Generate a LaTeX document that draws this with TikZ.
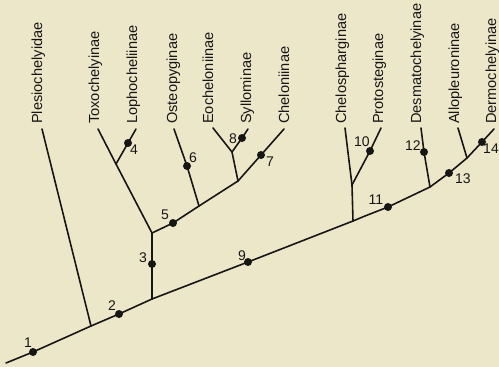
\documentclass[tikz,border=0pt]{standalone}
\usepackage{fontspec}
\setmainfont{Liberation Sans}
\definecolor{bg}{RGB}{237,231,201}
\definecolor{ink}{RGB}{22,22,22}
\begin{document}
\begin{tikzpicture}[x=1pt,y=-1pt,
  branch/.style={line width=1.6pt, draw=ink, line join=round, line cap=round},
  dotnode/.style={circle, fill=ink, inner sep=0pt, minimum size=8pt},
  taxon/.style={rotate=90, anchor=base west, inner sep=0pt, text=ink, font=\fontsize{14.6}{16}\selectfont},
  num/.style={inner sep=0pt, text=ink, font=\fontsize{14}{15}\selectfont}]
\fill[bg] (0,0) rectangle (499,367);
\useasboundingbox (0,0) rectangle (499,367);

% trunk
\coordinate (r0) at (6,363);
\coordinate (c1) at (33,352);
\coordinate (jP) at (91,326);
\coordinate (c2) at (119,314);
\coordinate (j3) at (152,299);
\coordinate (c9) at (248,262);
\coordinate (jC) at (353,221);
\coordinate (k1) at (365,216);
\coordinate (c11) at (388,207);
\coordinate (jD) at (430,187);
\coordinate (c13) at (449,173);
\coordinate (jA) at (467,158);
\coordinate (c14) at (482,142);
\coordinate (tDe) at (494,129);
% left clade
\coordinate (tPl) at (42,129);
\coordinate (c3) at (152,264);
\coordinate (j5) at (152,233);
\coordinate (tTo) at (98,129);
\coordinate (jL) at (116,164);
\coordinate (c4) at (128,143);
\coordinate (tLo) at (136,129);
\coordinate (c5) at (173,223);
\coordinate (jO) at (199,206);
\coordinate (c6) at (187,166);
\coordinate (tOs) at (174,129);
\coordinate (jE) at (238,181);
\coordinate (jS) at (232,152);
\coordinate (tEo) at (213,128);
\coordinate (c8) at (242,138);
\coordinate (tSy) at (248,129);
\coordinate (c7) at (261,155);
\coordinate (tCh) at (284,129);
% right clade
\coordinate (jPr) at (352,185);
\coordinate (tCs) at (345,128);
\coordinate (c10) at (370,151);
\coordinate (tPr) at (381,128);
\coordinate (c12) at (424,152);
\coordinate (tDs) at (421,128);
\coordinate (tAl) at (458,128);

\draw[branch] (r0) -- (c1) -- (jP) -- (c2) -- (j3) -- (c9) -- (jC) -- (k1) -- (c11) -- (jD) -- (c13) -- (jA) -- (c14) -- (tDe);
\draw[branch] (jP) -- (tPl);
\draw[branch] (j3) -- (c3) -- (j5) -- (jL) -- (tTo);
\draw[branch] (jL) -- (c4) -- (tLo);
\draw[branch] (j5) -- (c5) -- (jO) -- (jE) -- (c7) -- (tCh);
\draw[branch] (jO) -- (c6) -- (tOs);
\draw[branch] (jE) -- (jS) -- (tEo);
\draw[branch] (jS) -- (c8) -- (tSy);
\draw[branch] (jC) -- (jPr) -- (tCs);
\draw[branch] (jPr) -- (c10) -- (tPr);
\draw[branch] (jD) -- (c12) -- (tDs);
\draw[branch] (jA) -- (tAl);

\foreach \c in {1,...,14} {\node[dotnode] (d\c) at (c\c) {};}

\node[num] (l1) at (28,343) {1};
\node[num] (l2) at (112,306) {2};
\node[num] (l3) at (143,258) {3};
\node[num] (l4) at (134,150) {4};
\node[num] (l5) at (165,215) {5};
\node[num] (l6) at (193,158) {6};
\node[num] (l7) at (270,162) {7};
\node[num] (l8) at (233,139) {8};
\node[num] (l9) at (242,256) {9};
\node[num] (l10) at (362,142) {10};
\node[num] (l11) at (376,200) {11};
\node[num] (l12) at (413,146) {12};
\node[num] (l13) at (463,179) {13};
\node[num, anchor=east] (l14) at (499,149) {14};

\node[taxon] (xPl) at (42,124) {Plesiochelyidae};
\node[taxon] (xTo) at (99,124) {Toxochelyinae};
\node[taxon] (xLo) at (137,124) {Lophocheliinae};
\node[taxon] (xOs) at (177,124) {Osteopyginae};
\node[taxon] (xEo) at (213,124) {Eocheloniinae};
\node[taxon] (xSy) at (251,124) {Syllominae};
\node[taxon] (xCh) at (289,124) {Cheloniinae};
\node[taxon] (xCs) at (346,124) {Chelospharginae};
\node[taxon] (xPr) at (383,124) {Protosteginae};
\node[taxon] (xDs) at (421,124) {Desmatochelyinae};
\node[taxon] (xAl) at (459,124) {Allopleuroninae};
\node[taxon] (xDe) at (496,124) {Dermochelyinae};
\end{tikzpicture}
\end{document}
